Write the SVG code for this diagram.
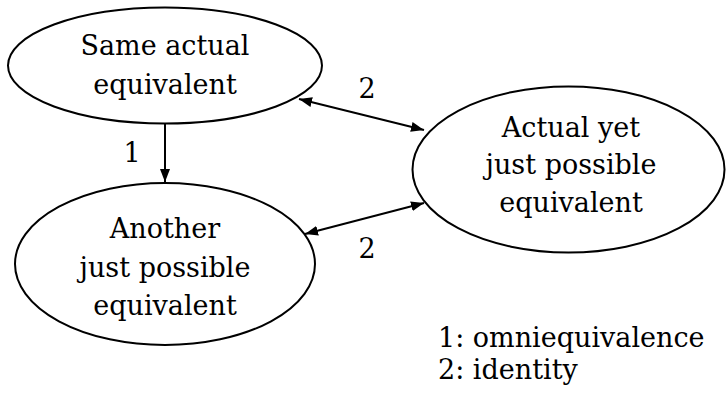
<svg xmlns="http://www.w3.org/2000/svg" width="726" height="394" viewBox="0 0 726 394">
<style>
.n{fill:#fff;stroke:#000;stroke-width:2}
.t{font-family:"DejaVu Serif",serif;font-size:27px;fill:#000;text-anchor:middle}
.l{font-family:"DejaVu Serif",serif;font-size:27px;fill:#000}
.e{stroke:#000;stroke-width:2;fill:none}
</style>
<defs>
<marker id="a" viewBox="0 0 13 10" refX="13" refY="5" markerWidth="13" markerHeight="10" markerUnits="userSpaceOnUse" orient="auto-start-reverse"><path d="M0,0L13,5L0,10z" fill="#000"/></marker>
</defs>
<rect width="726" height="394" fill="#fff"/>
<g id="same">
<ellipse class="n" cx="165" cy="65.5" rx="157" ry="58"/>
<text class="t" x="165" y="55">Same actual</text>
<text class="t" x="165" y="94">equivalent</text>
</g>
<g id="another">
<ellipse class="n" cx="165" cy="264" rx="150" ry="81"/>
<text class="t" x="165" y="238">Another</text>
<text class="t" x="165" y="277">just possible</text>
<text class="t" x="165" y="315">equivalent</text>
</g>
<g id="actual">
<ellipse class="n" cx="568.5" cy="169.5" rx="156" ry="83"/>
<text class="t" x="571" y="137">Actual yet</text>
<text class="t" x="571" y="174">just possible</text>
<text class="t" x="571" y="212">equivalent</text>
</g>
<g id="edges">
<line class="e" x1="165" y1="124" x2="165" y2="182" marker-end="url(#a)"/>
<text class="t" x="132" y="162">1</text>
<line class="e" x1="299" y1="99" x2="424" y2="130" marker-start="url(#a)" marker-end="url(#a)"/>
<text class="t" x="367" y="98">2</text>
<line class="e" x1="305" y1="234" x2="424" y2="203" marker-start="url(#a)" marker-end="url(#a)"/>
<text class="t" x="367" y="258">2</text>
</g>
<g id="legend">
<text class="l" x="438" y="347">1: omniequivalence</text>
<text class="l" x="438" y="379">2: identity</text>
</g>
</svg>
